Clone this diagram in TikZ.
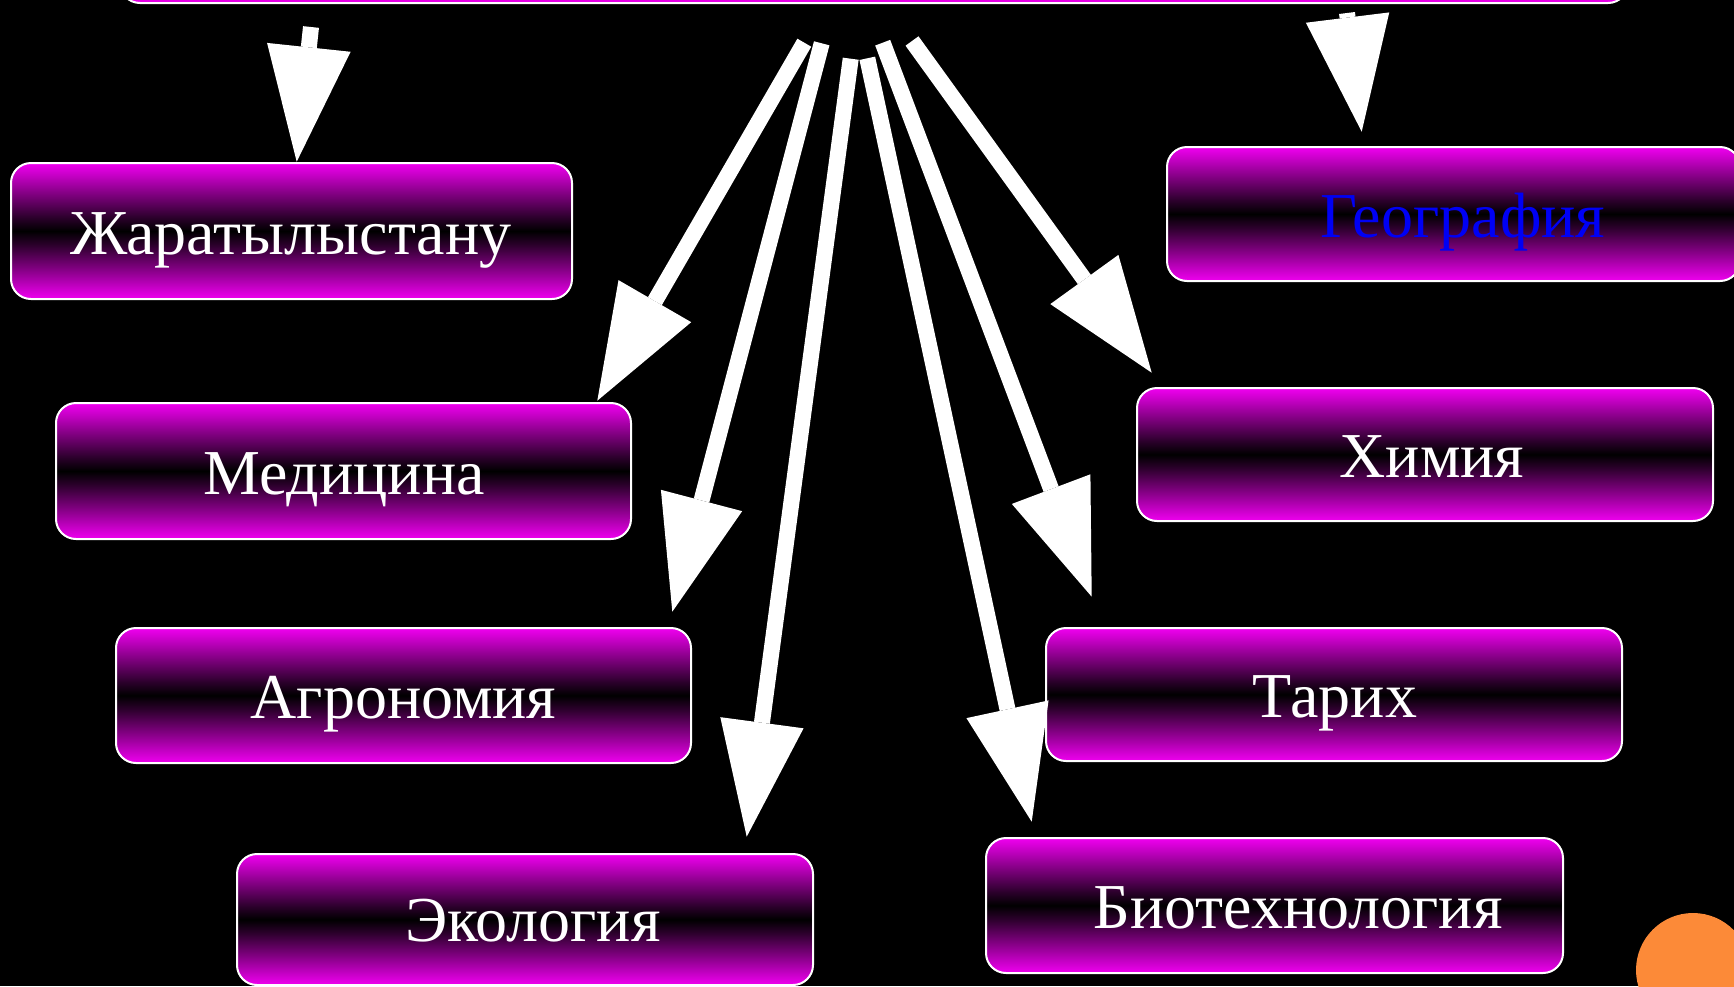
\documentclass[tikz,border=0pt]{standalone}
\usepackage{fontspec}
\setmainfont{Liberation Serif}
\usetikzlibrary{arrows.meta}
\definecolor{mag}{RGB}{240,0,240}
\definecolor{orng}{RGB}{252,138,56}
\definecolor{geoblue}{RGB}{0,0,245}
\pgfdeclareverticalshading{boxsh}{100bp}{color(0bp)=(mag); color(25bp)=(mag);
  color(30bp)=(mag!80!black); color(36bp)=(mag!55!black); color(45bp)=(mag!18!black);
  color(50bp)=(black);
  color(55bp)=(mag!18!black); color(64bp)=(mag!55!black); color(70bp)=(mag!80!black);
  color(75bp)=(mag); color(100bp)=(mag)}
\begin{document}
\begin{tikzpicture}[x=1pt,y=-1pt,
  box/.style={rectangle, rounded corners=20pt, draw=white, line width=2pt,
    shading=boxsh, inner sep=0pt},
  lbl/.style={anchor=base, inner sep=0pt, text=white, font=\fontsize{64}{70}\selectfont},
  arr/.style={draw=white, line width=16pt,
    -{Triangle[width=84pt,length=115pt,line width=0pt]}}]
\useasboundingbox (0,0) rectangle (1734,986);
\fill[black] (0,0) rectangle (1734,986);
\clip (0,0) rectangle (1734,986);

% top box (only its lower edge is visible)
\node[box, minimum width=1508pt, minimum height=140pt] (b0) at (874,-67) {};

% boxes
\node[box, minimum width=561pt, minimum height=136pt] (b1) at (291.5,231) {};
\node[box, minimum width=573pt, minimum height=134pt] (b2) at (1453.5,214) {};
\node[box, minimum width=575pt, minimum height=136pt] (b3) at (343.5,471) {};
\node[box, minimum width=576pt, minimum height=133pt] (b4) at (1425,454.5) {};
\node[box, minimum width=575pt, minimum height=135pt] (b5) at (403.5,695.5) {};
\node[box, minimum width=576pt, minimum height=133pt] (b6) at (1334,694.5) {};
\node[box, minimum width=576pt, minimum height=131pt] (b7) at (525,919.5) {};
\node[box, minimum width=577pt, minimum height=135pt] (b8) at (1274.5,905.5) {};

% labels
\node[lbl] (l1) at (291,254) {Жаратылыстану};
\node[lbl, text=geoblue] (l2) at (1463,237) {География};
\node[lbl] (l3) at (344,494) {Медицина};
\node[lbl] (l4) at (1432,477.5) {Химия};
\node[lbl] (l5) at (403.6,718.5) {Агрономия};
\node[lbl] (l6) at (1335,717.5) {Тарих};
\node[lbl] (l7) at (533,941.5) {Экология};
\node[lbl] (l8) at (1298,928.5) {Биотехнология};

% arrow ends
\coordinate (t1) at (311,27);     \coordinate (h1) at (296.7,161.7);
\coordinate (t2) at (804.3,42.7); \coordinate (h2) at (597.3,400.7);
\coordinate (t3) at (821.7,43.3); \coordinate (h3) at (672.3,611.7);
\coordinate (t4) at (850.7,58.7); \coordinate (h4) at (746.7,836.7);
\coordinate (t5) at (867.3,58.3); \coordinate (h5) at (1031.7,821.7);
\coordinate (t6) at (882.7,42.7); \coordinate (h6) at (1091.7,596.7);
\coordinate (t7) at (912,41);     \coordinate (h7) at (1151.7,372.7);
\coordinate (t8) at (1347,13);    \coordinate (h8) at (1361.7,131.7);

\foreach \i in {1,...,8} { \draw[arr] (t\i) -- (h\i); }

% orange circle
\fill[orng] (1693,970) circle[radius=57pt];
\end{tikzpicture}
\end{document}
